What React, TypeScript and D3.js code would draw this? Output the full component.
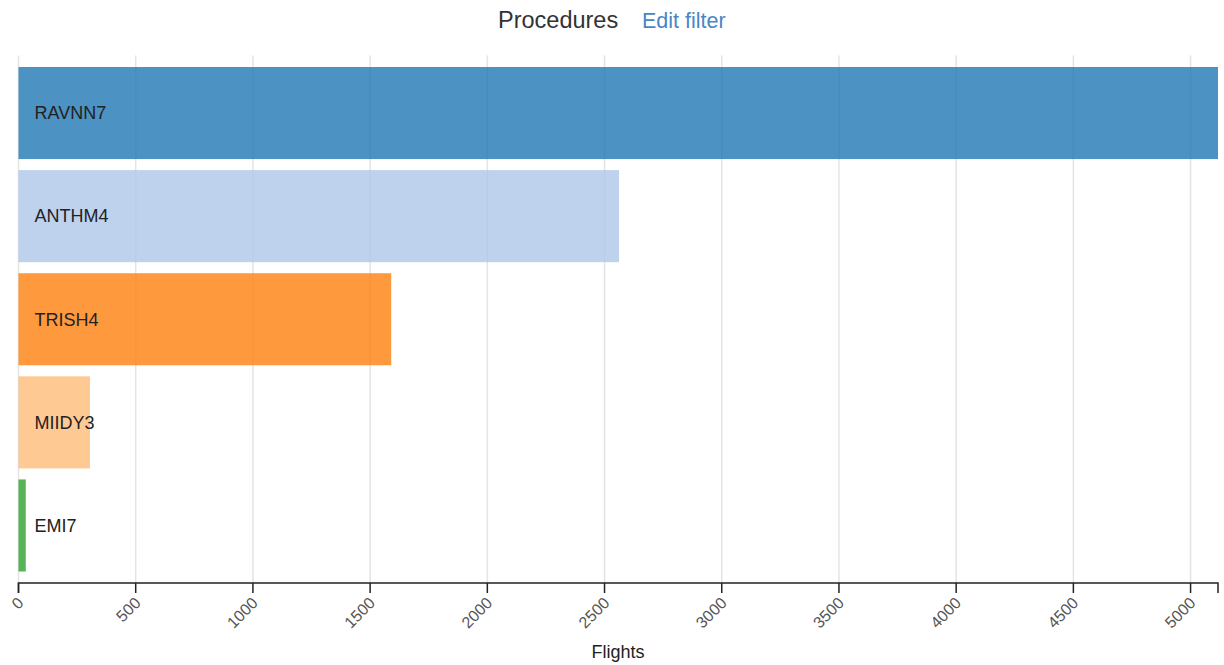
import React from "react";
import * as d3 from "d3";

const categories = ["RAVNN7", "ANTHM4", "TRISH4", "MIIDY3", "EMI7"];
const flights = [5117, 2562, 1590, 305, 31];
const barColors = ["#1f77b4", "#aec7e8", "#ff7f0e", "#ffbb78", "#2ca02c"];
const tickValues = [0, 500, 1000, 1500, 2000, 2500, 3000, 3500, 4000, 4500, 5000];

const W = 1224;
const H = 665;

export default function App() {
  const x = d3.scaleLinear().domain([0, d3.max(flights) as number]).range([18.5, 1218]);
  const y = d3.scaleBand<string>().domain(categories).range([67, 571.5]).paddingInner(0.107).paddingOuter(0);
  const axisY = 583;
  const gridTop = 55.5;
  const font = "'Liberation Sans', Arial, sans-serif";

  return (
    <svg width={W} height={H} style={{ position: "absolute", left: 0, top: 0, background: "#fff" }} fontFamily={font}>
      <text x={498} y={28} fontSize={23.5} fill="#333">Procedures</text>
      <text x={642} y={28} fontSize={21.5} fill="#4a86c8">Edit filter</text>

      {tickValues.map((t) => (
        <line key={"g" + t} x1={x(t)} x2={x(t)} y1={gridTop} y2={axisY} stroke="#e4e4e4" strokeWidth={1.5} />
      ))}

      {categories.map((c, i) => (
        <g key={c}>
          <rect x={x(0)} y={y(c)} width={x(flights[i]) - x(0)} height={y.bandwidth()} fill={barColors[i]} fillOpacity={0.8} />
          <text x={x(0) + 16} y={(y(c) as number) + y.bandwidth() / 2} dy="0.35em" fontSize={18} fill="#222">{c}</text>
        </g>
      ))}

      <path d={`M${x(0)},${axisY + 10}V${axisY}H${1218}V${axisY + 10}`} fill="none" stroke="#222" strokeWidth={1.5} />
      {tickValues.map((t) => (
        <g key={"t" + t} transform={`translate(${x(t)},${axisY})`}>
          <line y1={0} y2={10} stroke="#222" strokeWidth={1.5} />
          <text transform="translate(6,21) rotate(-45)" textAnchor="end" fontSize={16} fill="#555">{t}</text>
        </g>
      ))}

      <text x={618} y={658} textAnchor="middle" fontSize={18} fill="#222">Flights</text>
    </svg>
  );
}
